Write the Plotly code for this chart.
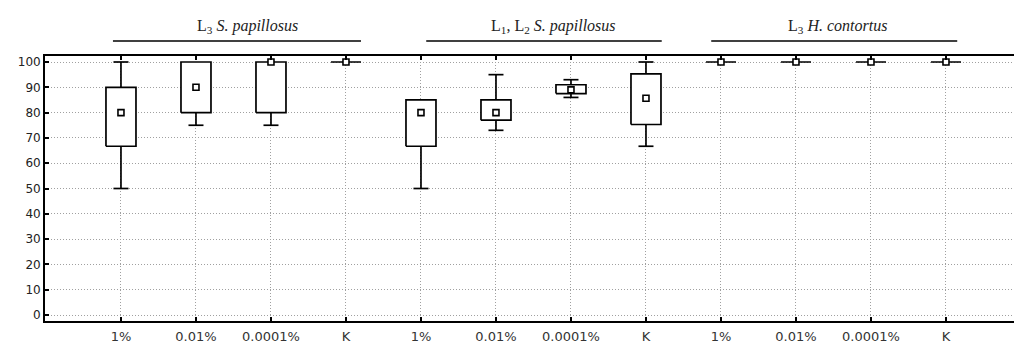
import plotly.graph_objects as go

# ---- data ----
group_titles = ["L<sub>3</sub> <i>S. papillosus</i>",
                "L<sub>1</sub>, L<sub>2</sub> <i>S. papillosus</i>",
                "L<sub>3</sub> <i>H. contortus</i>"]
concentrations = ["1%", "0.01%", "0.0001%", "K"]
tick_labels = concentrations * 3

minimum = [50, 75, 75, 100, 50, 73, 86, 66.7, 100, 100, 100, 100]
q1 = [66.7, 80, 80, 100, 66.7, 77, 87.5, 75.3, 100, 100, 100, 100]
median = [80, 90, 100, 100, 80, 80, 89, 85.7, 100, 100, 100, 100]
q3 = [90, 100, 100, 100, 85, 85, 91, 95.3, 100, 100, 100, 100]
maximum = [100, 100, 100, 100, 85, 95, 93, 100, 100, 100, 100, 100]

y_ticks = list(range(0, 101, 10))

BOX_W = 0.4
CAP_W = 0.2

positions = list(range(len(tick_labels)))

# build box outlines and whiskers from data
bx, by = [], []
wx, wy = [], []
for p, lo, a, b, hi in zip(positions, minimum, q1, q3, maximum):
    l, r = p - BOX_W / 2, p + BOX_W / 2
    bx += [l, r, r, l, l, None]
    by += [a, a, b, b, a, None]
    if hi > b:
        wx += [p, p, None, p - CAP_W / 2, p + CAP_W / 2, None]
        wy += [b, hi, None, hi, hi, None]
    if lo < a:
        wx += [p, p, None, p - CAP_W / 2, p + CAP_W / 2, None]
        wy += [a, lo, None, lo, lo, None]

fig = go.Figure()
fig.add_trace(go.Scatter(x=wx, y=wy, mode="lines",
                         line=dict(color="black", width=1.7),
                         hoverinfo="skip", showlegend=False))
fig.add_trace(go.Scatter(x=bx, y=by, mode="lines", fill="toself",
                         fillcolor="white",
                         line=dict(color="black", width=1.7),
                         hoverinfo="skip", showlegend=False))
fig.add_trace(go.Scatter(x=positions, y=median, mode="markers",
                         marker=dict(symbol="square", size=6, color="white",
                                     line=dict(color="black", width=1.6)),
                         showlegend=False))

# group titles and lines
title_x = [1.69, 5.77, 9.56]
line_spans = [(-0.107, 3.2), (4.07, 7.21), (7.87, 11.15)]
for t, tx, (x0, x1) in zip(group_titles, title_x, line_spans):
    fig.add_annotation(text=t, x=tx, xref="x", y=1.11, yref="paper",
                       showarrow=False, yanchor="middle",
                       font=dict(family="Liberation Serif", size=16, color="#222"))
    fig.add_shape(type="line", x0=x0, x1=x1, xref="x", y0=1.0566, y1=1.0566,
                  yref="paper", line=dict(color="black", width=1.7))

fig.update_layout(
    width=1014, height=345,
    margin=dict(l=45, r=0, t=56, b=24),
    paper_bgcolor="white", plot_bgcolor="white",
    font=dict(family="DejaVu Sans", size=12, color="#222"),
)
fig.update_xaxes(
    range=[-1.013, 11.907],
    tickmode="array", tickvals=positions, ticktext=tick_labels,
    ticks="inside", ticklen=4, tickcolor="black", tickwidth=1.5,
    showline=True, linecolor="black", linewidth=1.7, mirror="allticks",
    showgrid=True, gridcolor="#a0a0a0", griddash="1px,2px", gridwidth=1,
    zeroline=False, ticklabelstandoff=3,
    tickfont=dict(family="DejaVu Sans", size=13, color="#333"),
)
fig.update_yaxes(
    range=[-2.37, 102.37],
    tickmode="array", tickvals=y_ticks,
    ticks="inside", ticklen=4, tickcolor="black", tickwidth=1.5,
    showline=True, linecolor="black", linewidth=1.7,
    showgrid=True, gridcolor="#a0a0a0", griddash="1px,2px", gridwidth=1,
    zeroline=False,
    tickfont=dict(family="DejaVu Sans", size=12, color="#222"),
)

fig.write_html("out.html")
